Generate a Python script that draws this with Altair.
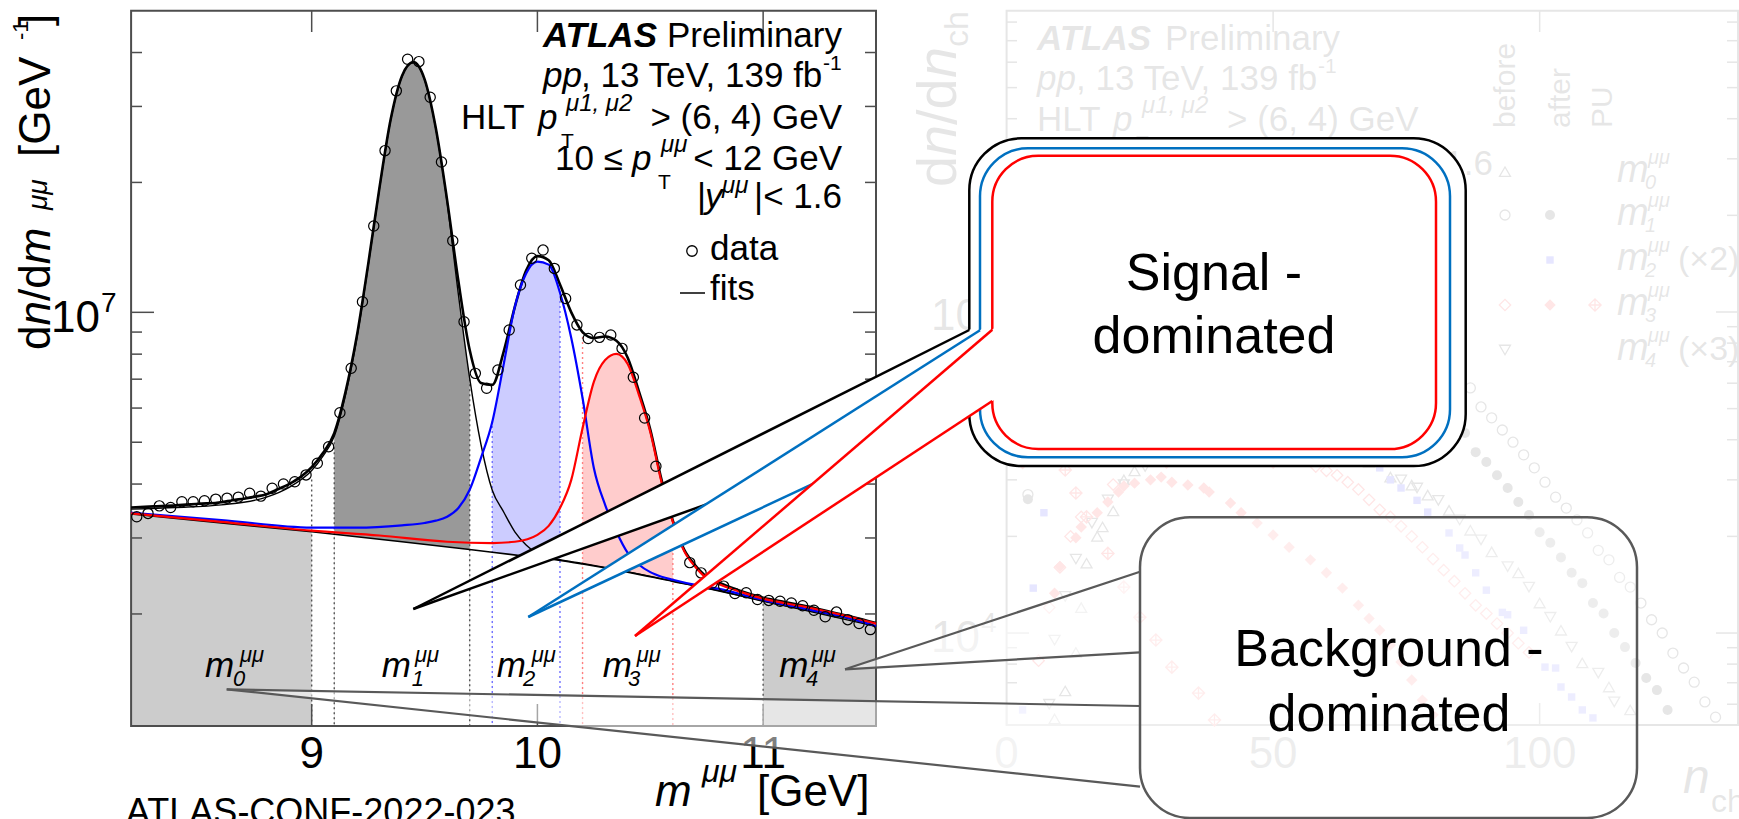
import altair as alt
import pandas as pd

W, H = 1739, 819
FONT = "Liberation Sans"

# ---------------- left panel: dimuon mass spectrum and fits ----------------
MASS_BINS = [8.225, 8.275, 8.325, 8.375, 8.425, 8.475, 8.525, 8.575, 8.625, 8.675,
             8.725, 8.775, 8.825, 8.875, 8.925, 8.975, 9.025, 9.075, 9.125, 9.175,
             9.225, 9.275, 9.325, 9.375, 9.425, 9.475, 9.525, 9.575, 9.625, 9.675,
             9.725, 9.775, 9.825, 9.875, 9.925, 9.975, 10.025, 10.075, 10.125, 10.175,
             10.225, 10.275, 10.325, 10.375, 10.425, 10.475, 10.525, 10.575, 10.625, 10.675,
             10.725, 10.775, 10.825, 10.875, 10.925, 10.975, 11.025, 11.075, 11.125, 11.175,
             11.225, 11.275, 11.325, 11.375, 11.425, 11.475]
DATA_COUNTS = [3.36e6, 3.42e6, 3.56e6, 3.53e6, 3.64e6, 3.64e6, 3.66e6, 3.69e6, 3.71e6, 3.73e6,
               3.81e6, 3.75e6, 3.91e6, 4.00e6, 4.05e6, 4.20e6, 4.47e6, 4.88e6, 5.85e6, 7.42e6,
               1.058e7, 1.585e7, 2.37e7, 3.26e7, 3.86e7, 3.81e7, 3.15e7, 2.23e7, 1.465e7, 9.51e6,
               7.22e6, 6.67e6, 7.35e6, 9.10e6, 1.157e7, 1.334e7, 1.394e7, 1.264e7, 1.077e7, 9.35e6,
               8.70e6, 8.75e6, 8.86e6, 8.25e6, 7.07e6, 5.69e6, 4.40e6, 3.48e6, 2.97e6, 2.63e6,
               2.49e6, 2.36e6, 2.32e6, 2.23e6, 2.24e6, 2.16e6, 2.15e6, 2.14e6, 2.12e6, 2.09e6,
               2.04e6, 1.97e6, 2.02e6, 1.94e6, 1.90e6, 1.84e6]

TOTAL_FIT = [(8.2, 3.53e6), (8.3, 3.55e6), (8.4, 3.57e6), (8.5, 3.60e6), (8.6, 3.63e6),
             (8.65, 3.67e6), (8.7, 3.70e6), (8.75, 3.74e6), (8.8, 3.79e6), (8.85, 3.89e6),
             (8.9, 4.00e6), (8.95, 4.15e6), (9.0, 4.38e6), (9.05, 4.72e6), (9.1, 5.25e6),
             (9.15, 6.54e6), (9.2, 8.81e6), (9.25, 1.29e7), (9.3, 1.94e7), (9.35, 2.80e7),
             (9.4, 3.53e7), (9.45, 3.80e7), (9.5, 3.47e7), (9.55, 2.67e7), (9.6, 1.82e7),
             (9.65, 1.18e7), (9.7, 8.18e6), (9.75, 6.86e6), (9.8, 6.79e6), (9.85, 8.09e6),
             (9.9, 1.03e7), (9.95, 1.25e7), (10.0, 1.35e7), (10.05, 1.32e7), (10.1, 1.16e7),
             (10.15, 1.00e7), (10.2, 9.00e6), (10.25, 8.72e6), (10.3, 8.79e6), (10.35, 8.59e6),
             (10.4, 7.85e6), (10.45, 6.55e6), (10.5, 5.35e6), (10.55, 4.09e6), (10.6, 3.29e6),
             (10.65, 2.82e6), (10.7, 2.59e6), (10.75, 2.44e6), (10.8, 2.37e6), (10.9, 2.26e6),
             (11.0, 2.18e6), (11.1, 2.13e6), (11.2, 2.08e6), (11.3, 2.02e6), (11.4, 1.965e6),
             (11.5, 1.905e6)]
Y1S_FIT = [(8.2, 3.50e6), (8.4, 3.53e6), (8.6, 3.58e6), (8.8, 3.73e6), (8.9, 3.93e6),
           (9.0, 4.30e6), (9.05, 4.64e6), (9.1, 5.16e6), (9.15, 6.44e6), (9.2, 8.70e6),
           (9.25, 1.28e7), (9.3, 1.93e7), (9.35, 2.79e7), (9.4, 3.52e7), (9.45, 3.79e7),
           (9.5, 3.46e7), (9.55, 2.66e7), (9.6, 1.80e7), (9.65, 1.10e7), (9.7, 7.03e6),
           (9.75, 4.94e6), (9.8, 3.87e6), (9.85, 3.45e6), (9.9, 3.10e6), (9.95, 2.89e6),
           (10.0, 2.76e6), (10.05, 2.70e6), (10.1, 2.67e6), (10.2, 2.62e6), (10.6, 2.385e6),
           (11.0, 2.145e6), (11.5, 1.872e6)]
Y2S_FIT = [(8.2, 3.43e6), (8.6, 3.30e6), (9.0, 3.17e6), (9.2, 3.17e6), (9.4, 3.21e6),
           (9.5, 3.25e6), (9.55, 3.29e6), (9.6, 3.36e6), (9.65, 3.52e6), (9.7, 3.88e6),
           (9.75, 4.60e6), (9.8, 5.57e6), (9.85, 7.55e6), (9.9, 1.03e7), (9.95, 1.23e7),
           (10.0, 1.31e7), (10.05, 1.29e7), (10.1, 1.11e7), (10.15, 8.72e6), (10.2, 6.33e6),
           (10.25, 4.36e6), (10.3, 3.58e6), (10.35, 3.10e6), (10.4, 2.77e6), (10.45, 2.60e6),
           (10.5, 2.50e6), (10.55, 2.44e6), (10.6, 2.40e6), (10.7, 2.335e6), (10.8, 2.29e6),
           (11.0, 2.155e6), (11.2, 2.05e6), (11.4, 1.945e6), (11.5, 1.875e6)]
Y3S_FIT = [(8.2, 3.42e6), (8.6, 3.27e6), (9.0, 3.12e6), (9.3, 3.04e6), (9.6, 2.94e6),
           (9.8, 2.92e6), (9.9, 2.94e6), (10.0, 3.05e6), (10.05, 3.20e6), (10.1, 3.52e6),
           (10.15, 4.09e6), (10.2, 5.39e6), (10.25, 6.90e6), (10.3, 7.75e6), (10.35, 8.01e6),
           (10.4, 7.59e6), (10.45, 6.43e6), (10.5, 5.28e6), (10.55, 4.04e6), (10.6, 3.27e6),
           (10.65, 2.80e6), (10.7, 2.57e6), (10.75, 2.42e6), (10.8, 2.35e6), (10.9, 2.25e6),
           (11.0, 2.17e6), (11.2, 2.07e6), (11.4, 1.96e6), (11.5, 1.90e6)]
BKG_FIT = [(8.2, 3.41e6), (8.6, 3.25e6), (9.0, 3.10e6), (9.1, 3.06e6), (9.4, 2.94e6),
           (9.7, 2.82e6), (9.8, 2.78e6), (10.0, 2.70e6), (10.1, 2.66e6), (10.2, 2.61e6),
           (10.4, 2.50e6), (10.6, 2.38e6), (10.8, 2.27e6), (11.0, 2.14e6), (11.2, 2.04e6),
           (11.4, 1.94e6), (11.5, 1.87e6)]

# mass windows m0 ... m4 and the dotted lines that bound them
SIDEBANDS = [(8.2, 9.0), (11.0, 11.5)]
PEAK_WINDOWS = [(9.1, 9.7), (9.8, 10.1), (10.2, 10.6)]
WINDOW_EDGES = [(9.0, 4.1e6, "grey"), (9.1, 5.0e6, "grey"), (9.7, 7.0e6, "grey"),
                (9.8, 5.6e6, "blue"), (10.1, 1.12e7, "blue"), (10.2, 9.0e6, "red"),
                (10.6, 3.25e6, "red"), (11.0, 2.17e6, "grey")]

MASS_TICKS = [9, 10, 11]
MASS_Y_MINOR = [2e6, 3e6, 4e6, 5e6, 6e6, 7e6, 8e6, 9e6, 2e7, 3e7, 4e7]
MASS_Y_MAJOR = [1e7]

# ---------------- right panel: multiplicity distributions ----------------
M1_AFTER = [(4, 2.61e4), (6, 3.5e4), (10, 7.0e4), (16, 1.1e5), (24, 1.4e5), (32, 1.5e5),
            (40, 1.45e5), (50, 1.25e5), (60, 1.0e5), (70, 7.5e4), (80, 5.5e4), (86, 4.20e4),
            (88, 3.66e4), (90, 3.41e4), (92, 3.10e4), (94, 2.83e4), (96, 2.56e4), (98, 2.33e4),
            (100, 2.06e4), (102, 1.91e4), (104, 1.72e4), (106, 1.54e4), (108, 1.43e4),
            (110, 1.24e4), (112, 1.15e4), (114, 1.00e4), (116, 9.04e3), (118, 8.07e3),
            (120, 7.24e3), (122, 6.64e3), (124, 5.76e3)]
M1_BEFORE = [(4, 2.7e4), (6, 3.8e4), (10, 8.0e4), (16, 1.3e5), (24, 1.65e5), (32, 1.8e5),
             (40, 1.78e5), (50, 1.6e5), (60, 1.3e5), (70, 1.0e5), (80, 7.5e4), (87, 5.80e4),
             (89, 5.06e4), (91, 4.68e4), (93, 4.29e4), (95, 3.93e4), (97, 3.59e4), (99, 3.27e4),
             (101, 2.95e4), (103, 2.65e4), (105, 2.45e4), (107, 2.25e4), (109, 2.05e4),
             (111, 1.81e4), (113, 1.69e4), (115, 1.49e4), (117, 1.39e4), (119, 1.24e4),
             (121, 1.10e4), (123, 1.00e4), (125, 8.66e3), (127, 7.78e3), (129, 7.03e3),
             (131, 6.10e3), (133, 5.47e3)]
M0_BEFORE = [(9, 5.4e3), (11, 6.6e3), (13, 8.7e3), (14, 1.2e4), (15, 1.65e4), (17, 2.0e4),
             (18, 2.14e4), (20, 2.4e4), (22, 3.0e4), (24, 3.2e4), (30, 4.0e4), (40, 4.6e4),
             (50, 4.5e4), (60, 4.0e4), (68, 3.4e4), (72, 3.06e4), (76, 2.89e4), (79, 2.69e4),
             (83, 2.41e4), (87, 2.09e4), (91, 1.79e4), (96, 1.54e4), (100, 1.24e4),
             (104, 1.02e4), (108, 8.07e3), (113, 6.79e3), (117, 5.76e3)]
M4_BEFORE = [(8, 6.0e3), (9, 9.5e3), (11, 1.3e4), (13, 1.7e4), (16, 2.2e4), (19, 2.6e4),
             (22, 2.9e4), (26, 3.3e4), (35, 4.2e4), (45, 4.6e4), (55, 4.3e4), (65, 3.6e4),
             (74, 3.00e4), (77, 2.83e4), (81, 2.59e4), (85, 2.25e4), (89, 1.95e4), (94, 1.61e4),
             (98, 1.39e4), (102, 1.12e4), (106, 9.04e3), (111, 7.50e3), (114, 6.10e3)]
M2_AFTER = [(3, 5.76e3), (5, 1.38e4), (7, 2.37e4), (12, 3.6e4), (20, 4.4e4), (30, 4.6e4),
            (40, 4.4e4), (50, 4.0e4), (60, 3.6e4), (70, 3.27e4), (72, 3.00e4), (74, 2.83e4),
            (77, 2.59e4), (79, 2.38e4), (83, 2.05e4), (85, 1.84e4), (86, 1.75e4), (88, 1.54e4),
            (90, 1.36e4), (93, 1.16e4), (94, 1.14e4), (97, 1.02e4), (101, 7.83e3), (103, 7.78e3),
            (104, 6.79e3), (106, 6.32e3), (108, 5.76e3), (110, 5.44e3)]
M3_AFTER = [(9, 1.33e4), (10, 1.61e4), (13, 1.98e4), (14, 2.14e4), (17, 2.37e4), (19, 2.56e4),
            (21, 2.75e4), (22, 2.87e4), (24, 2.93e4), (27, 3.00e4), (29, 3.06e4), (31, 2.95e4),
            (34, 2.89e4), (37, 2.83e4), (38, 2.75e4), (42, 2.54e4), (44, 2.37e4), (47, 2.20e4),
            (50, 2.02e4), (53, 1.85e4), (57, 1.69e4), (60, 1.54e4), (63, 1.38e4), (66, 1.22e4),
            (68, 1.11e4), (70, 1.02e4), (72, 9.18e3), (74, 8.12e3), (76, 7.14e3), (78, 6.18e3),
            (80, 5.56e3)]
M3_BEFORE = [(6, 8.2e3), (8, 1.2e4), (10, 1.6e4), (12, 2.0e4), (14, 2.3e4), (20, 2.9e4),
             (30, 3.4e4), (40, 3.5e4), (50, 3.4e4), (58, 3.3e4), (60, 3.2e4), (62, 3.1e4),
             (64, 2.95e4), (66, 2.8e4), (68, 2.6e4), (70, 2.42e4), (72, 2.3e4), (74, 2.15e4),
             (76, 2.0e4), (78, 1.85e4), (80, 1.7e4), (82, 1.57e4), (84, 1.45e4), (86, 1.33e4),
             (88, 1.22e4), (90, 1.15e4), (92, 1.07e4), (94, 1.0e4), (96, 9.3e3), (98, 8.7e3)]
M3_PU = [(3, 3.4e4), (7, 3.6e4), (11, 3.22e4), (13, 2.73e4), (15, 2.30e4), (19, 1.77e4),
         (22, 1.39e4), (25, 1.12e4), (28, 9.51e3), (31, 7.83e3), (36, 6.50e3), (39, 5.36e3)]

NCH_TICKS = [0, 50, 100]
NCH_Y_MAJOR = [1e4, 1e5]
NCH_Y_MINOR = [6e3, 7e3, 8e3, 9e3, 2e4, 3e4, 4e4, 5e4, 6e4, 7e4, 8e4, 9e4,
               2e5, 3e5, 4e5, 5e5, 6e5, 7e5, 8e5]

# ---------------- scales (explicit pixel ranges on one canvas) ----------------
MX = alt.Scale(domain=[8.2, 11.5], range=[131.1, 876], nice=False, zero=False)
MY = alt.Scale(type="log", domain=[1.1e6, 5e7], range=[726, 10.7], nice=False)
NX = alt.Scale(domain=[0, 137.4], range=[1006.6, 1739], nice=False, zero=False)
NY = alt.Scale(type="log", domain=[5170, 8.68e5], range=[725, 10.7], nice=False)
PX = alt.Scale(domain=[0, W], range=[0, W], nice=False, zero=False)
PY = alt.Scale(domain=[0, H], range=[0, H], nice=False, zero=False)

ONE = pd.DataFrame({"k": [0]})


def mx():
    return alt.X("m:Q", scale=MX, axis=None)


def my(f="v"):
    return alt.Y(f"{f}:Q", scale=MY, axis=None, stack=None)


def nx():
    return alt.X("n:Q", scale=NX, axis=None)


def ny(f="v"):
    return alt.Y(f"{f}:Q", scale=NY, axis=None, stack=None)


def mdf(pairs):
    return pd.DataFrame(pairs, columns=["m", "v"])


def ndf(pairs):
    return pd.DataFrame(pairs, columns=["n", "v"])


def window(pairs, lo, hi):
    return [p for p in pairs if lo - 1e-9 <= p[0] <= hi + 1e-9]


def tx(s, x, y, size, style="normal", weight="normal", align="left", angle=0, color="black"):
    return alt.Chart(ONE).mark_text(
        text=s, font=FONT, fontSize=size, fontStyle=style, fontWeight=weight,
        align=align, baseline="alphabetic", angle=angle, color=color,
    ).encode(x=alt.value(x), y=alt.value(y))


def rect(x1, x2, y1, y2, stroke="transparent", width=0, fill="transparent",
         radius=0, fill_opacity=1.0):
    return alt.Chart(ONE).mark_rect(
        fill=fill, fillOpacity=fill_opacity, stroke=stroke, strokeWidth=width,
        cornerRadius=radius,
    ).encode(x=alt.value(x1), x2=alt.value(x2), y=alt.value(y1), y2=alt.value(y2))


def marker(x, y, shape, filled, size, color):
    return alt.Chart(ONE).mark_point(
        shape=shape, filled=filled, size=size, color=color, strokeWidth=1.3, opacity=1,
    ).encode(x=alt.value(x), y=alt.value(y))


layers = []

# ======================= right panel (drawn, then washed out) =======================
layers.append(rect(1006.6, 1738, 10.7, 725, stroke="black", width=2))
ticks_n = pd.DataFrame({"n": NCH_TICKS})
layers.append(alt.Chart(ticks_n).mark_rule(color="black", strokeWidth=1.5).encode(
    x=nx(), y=alt.value(725), y2=alt.value(703)))
layers.append(alt.Chart(pd.DataFrame({"n": NCH_TICKS[1:]})).mark_rule(
    color="black", strokeWidth=1.5).encode(x=nx(), y=alt.value(10.7), y2=alt.value(32)))
for vals, x1, x2 in [(NCH_Y_MAJOR, 1006.6, 1029), (NCH_Y_MINOR, 1006.6, 1017),
                     (NCH_Y_MAJOR, 1738, 1716), (NCH_Y_MINOR, 1738, 1727)]:
    layers.append(alt.Chart(pd.DataFrame({"v": vals})).mark_rule(
        color="black", strokeWidth=1.5).encode(y=ny(), x=alt.value(x1), x2=alt.value(x2)))
layers.append(alt.Chart(ticks_n).mark_text(
    font=FONT, fontSize=44, align="center", baseline="alphabetic", color="black").encode(
    x=nx(), y=alt.value(768), text=alt.Text("n:Q", format="d")))
layers += [tx("10", 980, 330, 44, align="right"), tx("5", 981, 310, 28),
           tx("10", 980, 652, 44, align="right"), tx("4", 981, 632, 28)]

SERIES_STYLE = [
    (M1_BEFORE, "circle", False, 100, "black"),
    (M1_AFTER, "circle", True, 100, "black"),
    (M0_BEFORE, "triangle-up", False, 120, "black"),
    (M4_BEFORE, "triangle-down", False, 120, "black"),
    (M2_AFTER, "square", True, 55, "#0000ff"),
    (M3_BEFORE, "diamond", False, 130, "#ff0000"),
    (M3_AFTER, "diamond", True, 130, "#ff0000"),
    (M3_PU, "M0,-1L1,0L0,1L-1,0ZM-1,0L1,0M0,-1L0,1", False, 150, "#ff0000"),
]
for pairs, shape, filled, size, col in SERIES_STYLE:
    layers.append(alt.Chart(ndf(pairs)).mark_point(
        shape=shape, filled=filled, size=size, color=col, strokeWidth=1.3, opacity=1,
    ).encode(x=nx(), y=ny()))

# right-panel axis titles
layers += [
    tx("d", 956, 187, 56, angle=270), tx("n", 956, 156, 56, style="italic", angle=270),
    tx("/d", 956, 125, 56, angle=270), tx("n", 956, 78, 56, style="italic", angle=270),
    tx("ch", 968, 47, 34, angle=270),
    tx("n", 1683, 793, 48, style="italic"), tx("ch", 1711, 812, 32),
]
# right-panel labels
layers += [
    tx("ATLAS", 1037, 50, 35, style="italic", weight="bold"), tx("Preliminary", 1165, 50, 35),
    tx("pp", 1037, 90, 35, style="italic"), tx(", 13 TeV, 139 fb", 1076, 90, 35),
    tx("-1", 1318, 73, 21),
    tx("HLT", 1037, 131, 35), tx("p", 1113, 131, 35, style="italic"),
    tx("μ1, μ2", 1142, 113, 24, style="italic"), tx("T", 1136, 150, 21),
    tx("> (6, 4) GeV", 1227, 131, 35),
    tx("10 ≤", 1037, 175, 35), tx("p", 1114, 175, 35, style="italic"),
    tx("μμ", 1144, 157, 24, style="italic"), tx("T", 1140, 194, 21),
    tx("< 12 GeV,", 1175, 175, 35), tx("|", 1352, 175, 35),
    tx("y", 1361, 175, 35, style="italic"), tx("μμ", 1379, 157, 24, style="italic"),
    tx("|< 1.6", 1493, 175, 35, align="right"),
    tx("before", 1515, 128, 30, angle=270), tx("after", 1570, 128, 30, angle=270),
    tx("PU", 1612, 128, 30, angle=270),
]
LEGEND_ROWS = [171.7, 215, 260, 305, 350]
for i, yc in enumerate(LEGEND_ROWS):
    layers += [tx("m", 1617, yc + 10, 38, style="italic"),
               tx(str(i), 1645, yc + 17, 20, style="italic"),
               tx("μμ", 1648, yc - 8, 20, style="italic")]
layers += [tx("(×2)", 1678, 270, 34), tx("(×3)", 1678, 360, 34)]
layers += [
    marker(1505, 171.7, "triangle-up", False, 120, "black"),
    marker(1505, 215, "circle", False, 100, "black"),
    marker(1550, 215, "circle", True, 100, "black"),
    marker(1550, 260, "square", True, 55, "#0000ff"),
    marker(1505, 305, "diamond", False, 130, "#ff0000"),
    marker(1550, 305, "diamond", True, 130, "#ff0000"),
    marker(1595, 305, "M0,-1L1,0L0,1L-1,0ZM-1,0L1,0M0,-1L0,1", False, 150, "#ff0000"),
    marker(1505, 350, "triangle-down", False, 120, "black"),
]
# wash the right panel out
layers.append(rect(879, W, 0, H, fill="white", fill_opacity=0.9))

# ======================= left panel =======================
for lo, hi in SIDEBANDS:
    layers.append(alt.Chart(mdf(window(BKG_FIT, lo, hi))).mark_area(
        color="#cccccc", interpolate="monotone", orient="vertical").encode(
        x=mx(), y=my(), y2=alt.value(726)))
for (lo, hi), curve, col in zip(PEAK_WINDOWS, [Y1S_FIT, Y2S_FIT, Y3S_FIT],
                                ["#999999", "#ccccff", "#ffcccc"]):
    layers.append(alt.Chart(mdf(window(curve, lo, hi))).mark_area(
        color=col, interpolate="monotone", orient="vertical").encode(
        x=mx(), y=my(), y2=alt.value(726)))
    layers.append(alt.Chart(mdf(window(BKG_FIT, lo, hi))).mark_area(
        color="white", interpolate="monotone", orient="vertical").encode(
        x=mx(), y=my(), y2=alt.value(726)))

edges = pd.DataFrame(WINDOW_EDGES, columns=["m", "top", "kind"])
layers.append(alt.Chart(edges).mark_rule(strokeWidth=1.4, strokeDash=[2, 3]).encode(
    x=mx(), y=my("top"), y2=alt.value(726),
    color=alt.Color("kind:N", legend=None, scale=alt.Scale(
        domain=["grey", "blue", "red"], range=["#555555", "#7070ff", "#ff8080"]))))

# frame and ticks
layers.append(rect(131.1, 876, 10.7, 726, stroke="#4d4d4d", width=2))
ticks_m = pd.DataFrame({"m": MASS_TICKS})
layers.append(alt.Chart(ticks_m).mark_rule(color="#4d4d4d", strokeWidth=1.5).encode(
    x=mx(), y=alt.value(726), y2=alt.value(704)))
layers.append(alt.Chart(ticks_m).mark_rule(color="#4d4d4d", strokeWidth=1.5).encode(
    x=mx(), y=alt.value(10.7), y2=alt.value(32)))
for vals, x1, x2 in [(MASS_Y_MAJOR, 131.1, 154), (MASS_Y_MINOR, 131.1, 142),
                     (MASS_Y_MAJOR, 876, 853), (MASS_Y_MINOR, 876, 865)]:
    layers.append(alt.Chart(pd.DataFrame({"v": vals})).mark_rule(
        color="#4d4d4d", strokeWidth=1.5).encode(y=my(), x=alt.value(x1), x2=alt.value(x2)))
layers.append(alt.Chart(ticks_m).mark_text(
    font=FONT, fontSize=44, align="center", baseline="alphabetic", color="black").encode(
    x=mx(), y=alt.value(768), text=alt.Text("m:Q", format="d")))
layers += [tx("10", 100, 332, 44, align="right"), tx("7", 101, 312, 28)]

# fitted curves
for curve, col, w in [(TOTAL_FIT, "black", 2.6), (Y1S_FIT, "black", 1.4),
                      (BKG_FIT, "black", 1.6), (Y2S_FIT, "#0000ff", 2.2),
                      (Y3S_FIT, "#ff0000", 2.2)]:
    layers.append(alt.Chart(mdf(curve)).mark_line(
        color=col, strokeWidth=w, interpolate="monotone").encode(x=mx(), y=my()))

# data
layers.append(alt.Chart(pd.DataFrame({"m": MASS_BINS, "v": DATA_COUNTS})).mark_point(
    shape="circle", filled=False, size=105, color="black", strokeWidth=1.2, opacity=1,
).encode(x=mx(), y=my()))

# axis titles
layers += [
    tx("d", 50, 350, 44, angle=270), tx("n", 50, 325.5, 44, style="italic", angle=270),
    tx("/d", 50, 301, 44, angle=270), tx("m", 50, 264.3, 44, style="italic", angle=270),
    tx("μμ", 47, 210, 28, style="italic", angle=270), tx("[GeV", 50, 157, 44, angle=270),
    tx("-1", 28, 40, 22, angle=270), tx("]", 50, 26, 44, angle=270),
    tx("m", 655, 806, 44, style="italic"), tx("μμ", 702, 782, 32, style="italic"),
    tx("[GeV]", 757, 806, 44),
    tx("ATLAS-CONF-2022-023", 126, 824, 36),
]
# labels inside the frame
layers += [
    tx("Preliminary", 842, 47, 35, align="right"),
    tx("ATLAS", 657, 47, 35, style="italic", weight="bold", align="right"),
    tx("pp", 543, 87, 35, style="italic"),
    tx(", 13 TeV, 139 fb", 581, 87, 35),
    tx("-1", 823, 70, 21),
    tx("> (6, 4) GeV", 842, 129, 35, align="right"),
    tx("HLT", 461, 129, 35), tx("p", 538, 129, 35, style="italic"),
    tx("μ1, μ2", 566, 111, 24, style="italic"), tx("T", 561, 148, 21),
    tx("< 12 GeV", 842, 170, 35, align="right"),
    tx("10 ≤", 555, 170, 35), tx("p", 632, 170, 35, style="italic"),
    tx("μμ", 661, 152, 24, style="italic"), tx("T", 658, 189, 21),
    tx("|< 1.6", 842, 208, 35, align="right"),
    tx("|", 697, 208, 35), tx("y", 705, 208, 35, style="italic"),
    tx("μμ", 722, 193, 24, style="italic"),
    marker(692, 251, "circle", False, 110, "black"),
    tx("data", 710, 260, 35), tx("fits", 710, 300, 35),
]
layers.append(alt.Chart(ONE).mark_rule(color="black", strokeWidth=1.5).encode(
    x=alt.value(680), x2=alt.value(705), y=alt.value(293)))
for lx, digit, sx, ux in [(205, "0", 233, 240), (381.7, "1", 411.7, 415),
                          (496.7, "2", 523, 531.7), (602.7, "3", 628, 636.7),
                          (779.3, "4", 806, 811.7)]:
    layers += [tx("m", lx, 677, 35, style="italic"),
               tx(digit, sx, 686, 22, style="italic"),
               tx("μμ", ux, 662, 22, style="italic")]

# ======================= callouts =======================
def wedge(tip, top, bot, color, width, fill_opacity, extend):
    bx = top[0] + extend
    f = (bx - tip[0]) / (top[0] - tip[0])
    area = pd.DataFrame({
        "px": [tip[0], bx],
        "top": [tip[1], tip[1] + (top[1] - tip[1]) * f],
        "bot": [tip[1], tip[1] + (bot[1] - tip[1]) * f],
    })
    sides = pd.DataFrame({"x1": [tip[0], tip[0]], "y1": [tip[1], tip[1]],
                          "x2": [top[0], bot[0]], "y2": [top[1], bot[1]]})
    fill = alt.Chart(area).mark_area(
        color="white", opacity=fill_opacity, interpolate="linear", orient="vertical").encode(
        x=alt.X("px:Q", scale=PX, axis=None),
        y=alt.Y("top:Q", scale=PY, axis=None, stack=None), y2="bot:Q")
    lines = alt.Chart(sides).mark_rule(color=color, strokeWidth=width).encode(
        x=alt.X("x1:Q", scale=PX, axis=None), y=alt.Y("y1:Q", scale=PY, axis=None),
        x2="x2:Q", y2="y2:Q")
    return [fill, lines]


SIGNAL_CALLOUTS = [
    ("#000000", (969.3, 1465.7, 138.3, 466, 52), (413.3, 609), (969.3, 330), (969.3, 410.6)),
    ("#0070C0", (980, 1450, 148.3, 457.3, 48), (528.3, 617), (980, 330.3), (980, 405.8)),
    ("#FF0000", (992.3, 1436, 155.7, 449, 46), (635, 636), (992.3, 329.7), (992.3, 401)),
]
for col, (x1, x2, y1, y2, r), tip, top, bot in SIGNAL_CALLOUTS:
    layers.append(rect(x1, x2, y1, y2, stroke=col, width=2.5, fill="white", radius=r))
    layers += wedge(tip, top, bot, col, 2.5, 1.0, 7)
layers += [tx("Signal -", 1214, 290, 52, align="center"),
           tx("dominated", 1214, 353, 52, align="center")]

BG_BOX = (1140, 1637, 517.3, 818, 50)
BG_POINTERS = [((845, 669.3), (1140, 571.7), (1140, 652.3)),
               ((226.7, 689.3), (1140, 706), (1140, 786.7))]
for tip, top, bot in BG_POINTERS:
    layers += wedge(tip, top, bot, "#595959", 2.2, 0.5, 0)
bx1, bx2, by1, by2, br = BG_BOX
layers.append(rect(bx1, bx2, by1, by2, stroke="#595959", width=2.5, fill="white",
                   radius=br, fill_opacity=0.3))
layers += [tx("Background -", 1389, 666, 52, align="center"),
           tx("dominated", 1389, 731, 52, align="center")]

chart = alt.layer(*layers).resolve_scale(
    x="independent", y="independent", color="independent"
).properties(
    width=W, height=H, padding=0, autosize=alt.AutoSizeParams(type="none"),
    background="white",
).configure_view(strokeOpacity=0)

chart.save("out.html", embed_options={"renderer": "svg", "actions": False})
